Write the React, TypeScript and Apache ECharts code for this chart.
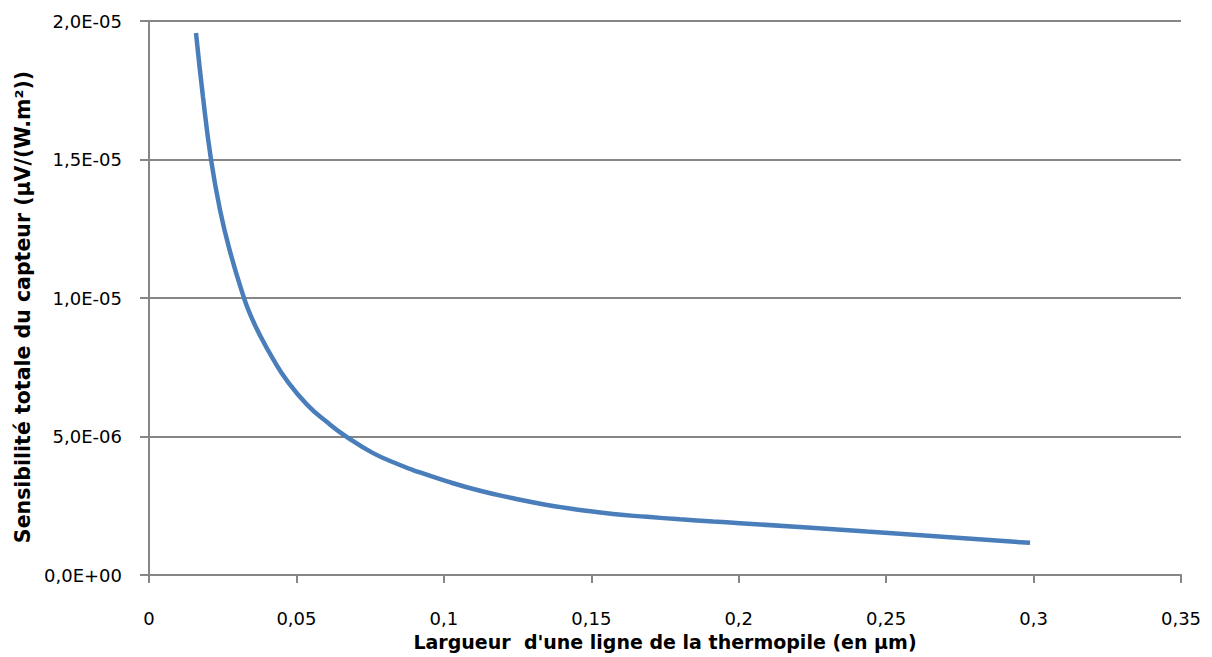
import React, { useEffect, useRef } from "react";
import * as echarts from "echarts";

const widths = [0.01594, 0.01831, 0.02103, 0.02408, 0.02747, 0.03222, 0.03425, 0.03765, 0.04205, 0.0468, 0.05359, 0.06037, 0.06715, 0.076, 0.0851, 0.0895, 0.1011, 0.1123, 0.1235, 0.135, 0.1462, 0.1574, 0.1689, 0.1801, 0.1913, 0.2004, 0.2435, 0.2988];
const sensitivity = [1.957e-5, 1.726e-5, 1.5e-5, 1.318e-5, 1.168e-5, 1.0e-5, 9.43e-6, 8.65e-6, 7.8e-6, 7.02e-6, 6.15e-6, 5.52e-6, 4.98e-6, 4.4e-6, 3.97e-6, 3.79e-6, 3.38e-6, 3.04e-6, 2.77e-6, 2.53e-6, 2.35e-6, 2.2e-6, 2.1e-6, 2.01e-6, 1.93e-6, 1.87e-6, 1.57e-6, 1.16e-6];

const xAxisName = "Largueur  d'une ligne de la thermopile (en µm)";
const yAxisName = "Sensibilité totale du capteur (µV/(W.m²))";

const fmtY = (v: number) => {
  const [m, e] = v.toExponential(1).split("e");
  const n = parseInt(e, 10);
  const sign = n < 0 ? "-" : "+";
  const ex = String(Math.abs(n)).padStart(2, "0");
  return m.replace(".", ",") + "E" + sign + ex;
};
const fmtX = (v: number) => String(parseFloat(v.toFixed(4))).replace(".", ",");

export default function App() {
  const ref = useRef<HTMLDivElement>(null);
  useEffect(() => {
    if (!ref.current) return;
    const chart = echarts.init(ref.current, null, { renderer: "svg" });
    const gray = "#868686";
    const font = "DejaVu Sans";
    chart.setOption({
      animation: false,
      backgroundColor: "#ffffff",
      grid: { left: 149, right: 31, top: 21, bottom: 82, containLabel: false },
      xAxis: {
        type: "value",
        min: 0,
        max: 0.35,
        interval: 0.05,
        name: xAxisName,
        nameLocation: "middle",
        nameGap: 57,
        nameTextStyle: { fontFamily: font, fontWeight: "bold", fontSize: 19, color: "#000" },
        axisLine: { show: true, lineStyle: { color: gray, width: 2 } },
        axisTick: { show: true, length: 8, lineStyle: { color: gray, width: 2 } },
        axisLabel: { formatter: fmtX, fontFamily: font, fontSize: 18, color: "#000", margin: 34 },
        splitLine: { show: false },
      },
      yAxis: {
        type: "value",
        min: 0,
        max: 2e-5,
        interval: 5e-6,
        name: yAxisName,
        nameLocation: "middle",
        nameRotate: 90,
        nameGap: 112,
        nameTextStyle: { fontFamily: font, fontWeight: "bold", fontSize: 20.5, color: "#000", padding: [0, 18, 0, 0] },
        axisLine: { show: true, lineStyle: { color: gray, width: 2 } },
        axisTick: { show: true, length: 9, lineStyle: { color: gray, width: 2 } },
        axisLabel: { formatter: fmtY, fontFamily: font, fontSize: 18, color: "#000", margin: 27 },
        splitLine: { show: true, lineStyle: { color: gray, width: 2 } },
      },
      series: [
        {
          type: "line",
          data: widths.map((x, i) => [x, sensitivity[i]]),
          smooth: true,
          showSymbol: false,
          lineStyle: { color: "#4A7EBB", width: 4.5 },
          itemStyle: { color: "#4A7EBB" },
        },
      ],
    });
    return () => chart.dispose();
  }, []);
  return <div ref={ref} style={{ position: "fixed", left: 0, top: 0, width: 1212, height: 657 }} />;
}
